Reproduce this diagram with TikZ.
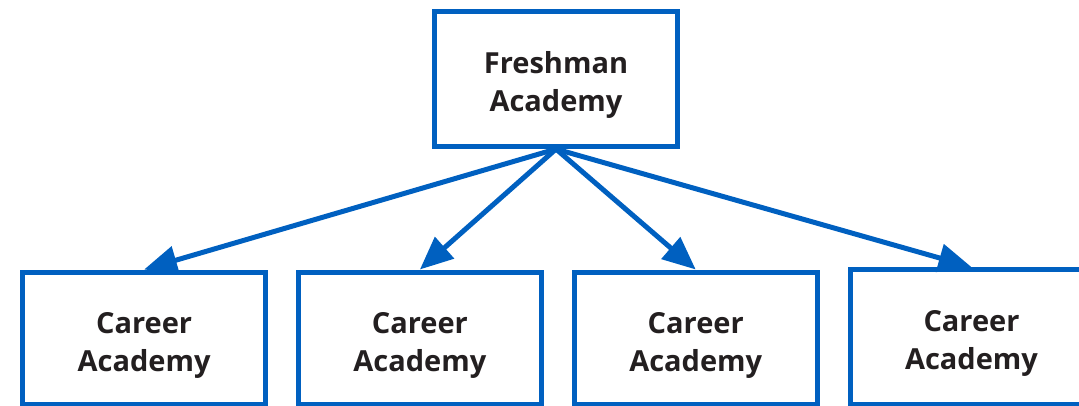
\documentclass[tikz,border=0pt]{standalone}
\usepackage{fontspec}
\setmainfont{Open Sans}
\usetikzlibrary{arrows.meta}
\definecolor{boxblue}{RGB}{0,96,192}
\definecolor{txt}{RGB}{35,31,32}
\begin{document}
\begin{tikzpicture}[x=1pt,y=-1pt,
  box/.style={draw=boxblue, line width=5pt, fill=white, minimum width=243pt, inner sep=0pt},
  lbl/.style={inner sep=0pt, align=center, text=txt, font=\fontsize{29}{38}\selectfont\bfseries},
  arr/.style={draw=boxblue, line width=5pt, -{Triangle[length=33pt,width=28pt]}}]
\clip (0,0) rectangle (1079,406);
\useasboundingbox (0,0) rectangle (1079,406);
\node[box, minimum height=134.7pt] (top) at (556,79.2) {};
\node[box, minimum height=132pt] (c1) at (144.1,338) {};
\node[box, minimum height=132pt] (c2) at (419.9,338) {};
\node[box, minimum height=132pt] (c3) at (695.7,338) {};
\node[box, minimum height=134.5pt] (c4) at (971.5,336.8) {};
\node[lbl] (t0) at ([yshift=-6pt]top.center) {Freshman\\Academy};
\node[lbl] (t1) at ([yshift=-7pt]c1.center) {Career\\Academy};
\node[lbl] (t2) at ([yshift=-7pt]c2.center) {Career\\Academy};
\node[lbl] (t3) at ([yshift=-7pt]c3.center) {Career\\Academy};
\node[lbl] (t4) at ([yshift=-7pt]c4.center) {Career\\Academy};
\draw[arr] (top.south) -- (c1.north);
\draw[arr] (top.south) -- (c2.north);
\draw[arr] (top.south) -- (c3.north);
\draw[arr] (top.south) -- (c4.north);
\end{tikzpicture}
\end{document}
